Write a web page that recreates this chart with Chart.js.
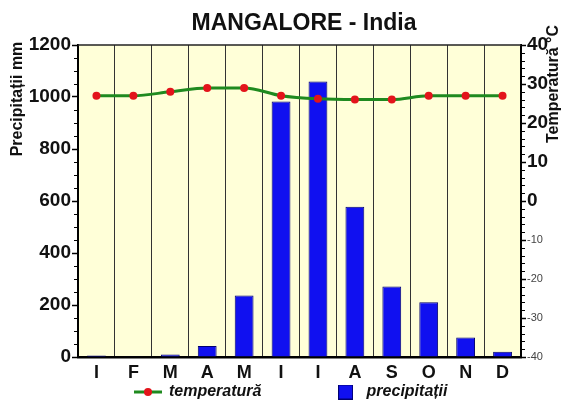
<!DOCTYPE html>
<html><head><meta charset="utf-8">
<script src="https://cdn.jsdelivr.net/npm/chart.js@4"></script>
<style>html,body{margin:0;padding:0;background:#fff}#wrap{width:569px;height:401px}</style>
</head><body><div id="wrap"><canvas id="c" width="569" height="401"></canvas></div>
<script>
const months = ['I','F','M','A','M','I','I','A','S','O','N','D'];
const precipitation = [6, 1, 10, 42, 237, 983, 1060, 578, 271, 211, 75, 20];
const temperature = [27, 27, 28, 29, 29, 27, 26.2, 26, 26, 27, 27, 27];
const precipAxis = [0, 1200, 200, 50];   // min, max, major step, minor step
const tempAxis = [-40, 40, 10, 2];
const titleText = 'MANGALORE - India';
const leftTitle = 'Precipitații mm';
const rightTitle = 'Temperatură °C';
const seriesNames = ['temperatură', 'precipitații'];

Chart.defaults.font.family = "'Liberation Sans', Arial, sans-serif";
Chart.defaults.color = '#111';

const PLOT_LEFT = 78, PLOT_RIGHT = 521, PLOT_BOTTOM = 357, PAD_LEFT = 13.5, LEGEND_H = 17;

function lineMarker() {
  const c = document.createElement('canvas'); c.width = 28; c.height = 10;
  const x = c.getContext('2d');
  x.strokeStyle = '#1F8A1F'; x.lineWidth = 3;
  x.beginPath(); x.moveTo(0, 5); x.lineTo(28, 5); x.stroke();
  x.fillStyle = '#E3141B'; x.beginPath(); x.arc(14, 5, 4, 0, Math.PI * 2); x.fill();
  return c;
}
function squareMarker() {
  const c = document.createElement('canvas'); c.width = 15; c.height = 15;
  const x = c.getContext('2d');
  x.fillStyle = '#1010F0'; x.fillRect(0, 0, 15, 15);
  x.strokeStyle = '#000070'; x.lineWidth = 1; x.strokeRect(0.5, 0.5, 14, 14);
  return c;
}
const mk1 = lineMarker(), mk2 = squareMarker();

const decor = {
  id: 'decor',
  beforeDraw(chart) {
    const {ctx, chartArea: a} = chart;
    ctx.save();
    ctx.fillStyle = '#fff'; ctx.fillRect(0, 0, chart.width, chart.height);
    ctx.fillStyle = '#FFFFD8'; ctx.fillRect(a.left, a.top, a.right - a.left, a.bottom - a.top);
    ctx.restore();
  },
  afterDraw(chart) {
    const {ctx, chartArea: a} = chart;
    const y = chart.scales.y, y1 = chart.scales.y1;
    ctx.save();
    ctx.strokeStyle = '#222'; ctx.lineWidth = 1.5;
    ctx.beginPath(); ctx.moveTo(a.left, a.top); ctx.lineTo(a.right, a.top); ctx.stroke();
    ctx.strokeStyle = '#000'; ctx.lineWidth = 1;
    for (let v = precipAxis[0]; v <= precipAxis[1]; v += precipAxis[3]) {
      if (v % precipAxis[2] === 0) continue;
      const py = Math.round(y.getPixelForValue(v)) + 0.5;
      ctx.beginPath(); ctx.moveTo(a.left - 4, py); ctx.lineTo(a.left, py); ctx.stroke();
    }
    for (let v = tempAxis[0]; v <= tempAxis[1]; v += tempAxis[3]) {
      if (v % tempAxis[2] === 0) continue;
      const py = Math.round(y1.getPixelForValue(v)) + 0.5;
      ctx.beginPath(); ctx.moveTo(a.right, py); ctx.lineTo(a.right + 4, py); ctx.stroke();
    }
    ctx.fillStyle = '#111';
    ctx.font = "bold 16px 'Liberation Sans', Arial, sans-serif";
    ctx.textAlign = 'center'; ctx.textBaseline = 'middle';
    ctx.save(); ctx.translate(18, 99); ctx.rotate(-Math.PI / 2); ctx.fillText(leftTitle, 0, 0); ctx.restore();
    ctx.save(); ctx.translate(554, 84); ctx.rotate(-Math.PI / 2); ctx.fillText(rightTitle, 0, 0); ctx.restore();
    ctx.restore();
  }
};

new Chart(document.getElementById('c'), {
  type: 'bar',
  data: {
    labels: months,
    datasets: [
      {
        type: 'line', label: seriesNames[0], data: temperature, yAxisID: 'y1', order: 0,
        borderColor: '#1F8A1F', borderWidth: 3, cubicInterpolationMode: 'monotone',
        pointRadius: 4, pointBackgroundColor: '#E3141B', pointBorderColor: '#E3141B', pointBorderWidth: 0
      },
      {
        type: 'bar', label: seriesNames[1], data: precipitation, yAxisID: 'y', order: 1,
        backgroundColor: '#1010F0', borderColor: '#000070', borderWidth: 1,
        barPercentage: 0.51, categoryPercentage: 1
      }
    ]
  },
  options: {
    responsive: false, animation: false, devicePixelRatio: 1,
    layout: {padding: {left: PAD_LEFT, right: 0, top: 0, bottom: 0}},
    plugins: {
      title: {display: true, text: '    ' + titleText, color: '#111',
        font: {size: 23, weight: 'bold', lineHeight: 1.2}, padding: {top: 9.5, bottom: 7.9}},
      tooltip: {enabled: false},
      legend: {
        position: 'bottom', maxHeight: LEGEND_H,
        labels: {
          usePointStyle: true, pointStyleWidth: 26, padding: 0, color: '#111',
          font: {size: 16, weight: 'bold', style: 'italic'},
          generateLabels: () => [
            {text: seriesNames[0] + '                ', pointStyle: mk1, fillStyle: 'rgba(0,0,0,0)', strokeStyle: 'rgba(0,0,0,0)', lineWidth: 0, hidden: false, datasetIndex: 0, fontColor: '#111'},
            {text: seriesNames[1], pointStyle: mk2, fillStyle: 'rgba(0,0,0,0)', strokeStyle: 'rgba(0,0,0,0)', lineWidth: 0, hidden: false, datasetIndex: 1, fontColor: '#111'}
          ]
        }
      }
    },
    scales: {
      x: {
        grid: {color: '#333', lineWidth: 1, drawTicks: false, offset: true},
        border: {color: '#000', width: 2.5},
        ticks: {font: {size: 18, weight: 'bold'}, color: '#111', padding: 5},
        afterFit(s) { s.height = 401 - s.chart.legend.height - PLOT_BOTTOM; }
      },
      y: {
        position: 'left', min: precipAxis[0], max: precipAxis[1],
        ticks: {stepSize: precipAxis[2], font: {size: 19, weight: 'bold'}, color: '#111', padding: 1,
          callback: (v) => String(v)},
        grid: {drawOnChartArea: false, tickLength: 6, tickColor: '#000', tickWidth: 1.5},
        border: {color: '#000', width: 2},
        afterFit(s) { s.width = PLOT_LEFT - PAD_LEFT; }
      },
      y1: {
        position: 'right', min: tempAxis[0], max: tempAxis[1],
        ticks: {
          stepSize: tempAxis[2], padding: 1, callback: (v) => String(v),
          font: (c) => (c.tick && c.tick.value >= 0) ? {size: 19, weight: 'bold'} : {size: 11, weight: 'normal'},
          color: (c) => (c.tick && c.tick.value >= 0) ? '#111' : '#444'
        },
        grid: {drawOnChartArea: false, tickLength: 5, tickColor: '#000', tickWidth: 1.5},
        border: {color: '#000', width: 2},
        afterFit(s) { s.width = 569 - PLOT_RIGHT; }
      }
    }
  },
  plugins: [decor]
});
</script></body></html>
